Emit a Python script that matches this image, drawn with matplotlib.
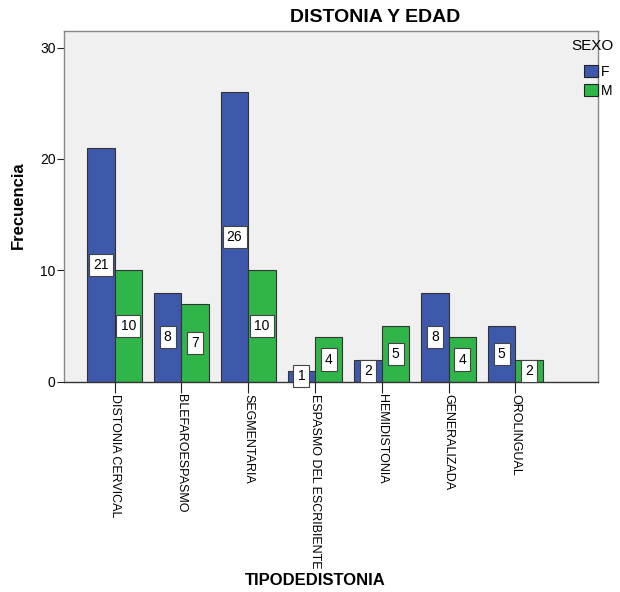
import matplotlib.pyplot as plt
import numpy as np

plt.rcParams['font.family'] = ['Liberation Sans', 'DejaVu Sans']

# data
categorias = ['DISTONIA CERVICAL', 'BLEFAROESPASMO', 'SEGMENTARIA',
              'ESPASMO DEL ESCRIBIENTE', 'HEMIDISTONIA', 'GENERALIZADA',
              'OROLINGUAL']
frec_f = [21, 8, 26, 1, 2, 8, 5]
frec_m = [10, 7, 10, 4, 5, 4, 2]
yticks = [0, 10, 20, 30]

col_f = '#3e58ac'
col_m = '#30b549'

fig = plt.figure(figsize=(6.2, 5.92), dpi=100)
ax = fig.add_axes([0.103, 0.355, 0.862, 0.593])
ax.set_facecolor('#f0f0f0')

x = np.arange(len(categorias))
w = 0.41
bf = ax.bar(x - w / 2, frec_f, w, color=col_f, edgecolor='#333333', linewidth=0.8, label='F')
bm = ax.bar(x + w / 2, frec_m, w, color=col_m, edgecolor='#333333', linewidth=0.8, label='M')

# value labels in the middle of each bar
for xs, vals in [(x - w / 2, frec_f), (x + w / 2, frec_m)]:
    for xi, v in zip(xs, vals):
        ax.text(xi, v / 2, str(v), ha='center', va='center', fontsize=10,
                bbox=dict(boxstyle='square,pad=0.3', facecolor='white',
                          edgecolor='#444444', linewidth=0.8))

ax.set_xlim(-0.76, 7.24)
ax.set_ylim(0, 31.5)
ax.set_yticks(yticks)
ax.set_yticklabels([str(t) for t in yticks], fontsize=10)
ax.set_xticks(x)
ax.set_xticklabels(categorias, rotation=-90, fontsize=9, va='top', ha='center')
ax.tick_params(axis='x', length=8, color='#222222', pad=1)
ax.tick_params(axis='y', length=5, color='#222222', pad=1)
for s in ax.spines.values():
    s.set_color('#888888')
    s.set_linewidth(1.0)
ax.spines['bottom'].set_color('#333333')

fig.text(0.605, 0.971, 'DISTONIA Y EDAD', ha='center', va='center',
         fontsize=14, fontweight='bold')
fig.text(0.029, 0.654, 'Frecuencia', rotation=90, ha='center', va='center',
         fontsize=12, fontweight='bold')
fig.text(0.508, 0.02, 'TIPODEDISTONIA', ha='center', va='center',
         fontsize=12, fontweight='bold')

# legend
fig.text(0.922, 0.922, 'SEXO', ha='left', va='center', fontsize=11)
leg = fig.legend(handles=[bf, bm], labels=['F', 'M'],
                 loc='upper left', bbox_to_anchor=(0.938, 0.895),
                 frameon=False, fontsize=10,
                 handlelength=1.0, handleheight=1.0, handletextpad=0.2,
                 labelspacing=0.35, borderpad=0.2, borderaxespad=0)
for h in leg.legend_handles:
    h.set_edgecolor('#222222')

fig.savefig('out.png', dpi=100)
